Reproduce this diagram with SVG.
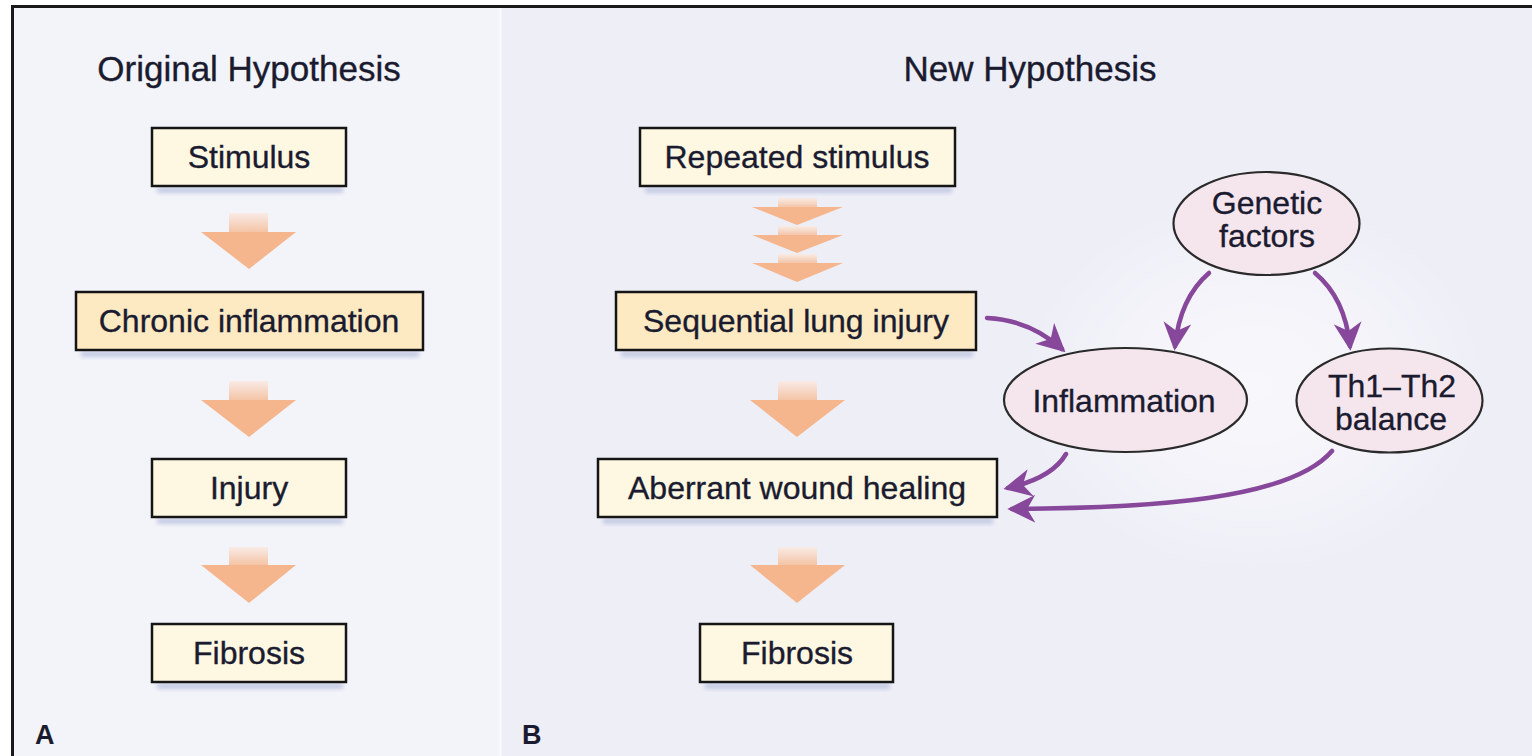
<svg xmlns="http://www.w3.org/2000/svg" width="1532" height="756" viewBox="0 0 1532 756">
<defs>
<style>
text{font-family:"Liberation Sans",Arial,sans-serif;fill:#1b1b30;text-anchor:middle;stroke:#1b1b30;stroke-width:0.35}
.title{font-size:35px}
.lbl{font-size:32px}
.pl{font-size:27px;text-anchor:start;font-weight:bold;stroke-width:0}
.box{fill:#fef8e2;stroke:#151515;stroke-width:2.5}
.box2{fill:#fdeac2;stroke:#151515;stroke-width:2.5}
.shd{fill:#c4cbe4;filter:url(#blur)}
.ell{fill:#f5e6ee;stroke:#2a2a2a;stroke-width:2.2}
.head{fill:#f5b68e}
.con{fill:none;stroke:#87479a;stroke-width:4.5;stroke-linecap:round}
</style>
<filter id="blur" x="-10%" y="-50%" width="120%" height="200%"><feGaussianBlur stdDeviation="2"/></filter>
<linearGradient id="stem" x1="0" y1="0" x2="0" y2="1">
<stop offset="0" stop-color="#f9ebe6"/>
<stop offset="1" stop-color="#f4c2a2"/>
</linearGradient>
<radialGradient id="glow" cx="0.5" cy="0.5" r="0.5">
<stop offset="0" stop-color="#ffffff" stop-opacity="0.6"/>
<stop offset="0.6" stop-color="#ffffff" stop-opacity="0.3"/>
<stop offset="1" stop-color="#ffffff" stop-opacity="0"/>
</radialGradient>
<marker id="ah" viewBox="0 0 12 12" refX="10" refY="6" markerWidth="28" markerHeight="28" markerUnits="userSpaceOnUse" orient="auto">
<path d="M0,0 L12,6 L0,12 L3.5,6 z" fill="#87479a"/>
</marker>
</defs>

<rect x="0" y="0" width="1532" height="756" fill="#ffffff"/>
<rect x="13" y="6" width="488" height="760" fill="#f3f4f9"/>
<rect x="501" y="6" width="1040" height="760" fill="#eeeef7"/>
<line x1="500.5" y1="6" x2="500.5" y2="756" stroke="#fafafd" stroke-width="2"/>
<path d="M12.5,760 L12.5,6.5 L1540,6.5" fill="none" stroke="#1a1a1a" stroke-width="3"/>
<ellipse cx="1255" cy="385" rx="235" ry="190" fill="url(#glow)"/>

<text class="title" x="249" y="81">Original Hypothesis</text>
<text class="title" x="1030" y="81">New Hypothesis</text>
<text class="pl" x="35" y="744">A</text>
<text class="pl" x="522" y="744">B</text>

<g id="arrows-a">
<rect x="229" y="213" width="39" height="20" fill="url(#stem)"/><path class="head" d="M201,232 L296,232 L249,269 z"/>
<rect x="229" y="381" width="39" height="20" fill="url(#stem)"/><path class="head" d="M201,400 L296,400 L249,437 z"/>
<rect x="229" y="547" width="39" height="19" fill="url(#stem)"/><path class="head" d="M201,565 L296,565 L249,603 z"/>
</g>
<g id="arrows-b">
<rect x="778" y="198" width="39" height="10" fill="url(#stem)"/><path class="head" d="M752,207 L843,207 L797,225 z"/>
<rect x="778" y="226" width="39" height="10" fill="url(#stem)"/><path class="head" d="M752,235 L843,235 L797,253 z"/>
<rect x="778" y="254" width="39" height="10" fill="url(#stem)"/><path class="head" d="M752,263 L843,263 L797,282 z"/>
<rect x="778" y="381" width="39" height="20" fill="url(#stem)"/><path class="head" d="M750,400 L845,400 L797,437 z"/>
<rect x="778" y="547" width="39" height="19" fill="url(#stem)"/><path class="head" d="M750,565 L845,565 L797,603 z"/>
</g>

<g id="n-stimulus"><rect class="shd" x="157" y="187" width="186" height="6"/><rect class="box" x="152" y="128" width="194" height="58"/><text class="lbl" x="249" y="168">Stimulus</text></g>
<g id="n-chronic"><rect class="shd" x="81" y="351" width="338" height="6"/><rect class="box2" x="76" y="292" width="347" height="58"/><text class="lbl" x="249" y="332">Chronic inflammation</text></g>
<g id="n-injury"><rect class="shd" x="157" y="518" width="186" height="6"/><rect class="box" x="152" y="459" width="194" height="58"/><text class="lbl" x="249" y="499">Injury</text></g>
<g id="n-fibrosis-a"><rect class="shd" x="157" y="683" width="186" height="6"/><rect class="box" x="152" y="624" width="194" height="58"/><text class="lbl" x="249" y="664">Fibrosis</text></g>

<g id="n-repeated"><rect class="shd" x="645" y="187" width="307" height="6"/><rect class="box" x="640" y="128" width="315" height="58"/><text class="lbl" x="797" y="168">Repeated stimulus</text></g>
<g id="n-sequential"><rect class="shd" x="621" y="351" width="352" height="6"/><rect class="box2" x="616" y="292" width="360" height="58"/><text class="lbl" x="796" y="332">Sequential lung injury</text></g>
<g id="n-aberrant"><rect class="shd" x="603" y="518" width="390" height="6"/><rect class="box" x="598" y="459" width="399" height="58"/><text class="lbl" x="797" y="499">Aberrant wound healing</text></g>
<g id="n-fibrosis-b"><rect class="shd" x="705" y="683" width="185" height="6"/><rect class="box" x="700" y="624" width="193" height="58"/><text class="lbl" x="797" y="664">Fibrosis</text></g>

<g id="n-genetic"><ellipse class="ell" cx="1266.5" cy="223.5" rx="93" ry="51.5"/><text class="lbl" x="1267" y="214">Genetic</text><text class="lbl" x="1267" y="247">factors</text></g>
<g id="n-inflammation"><ellipse class="ell" cx="1125.5" cy="400" rx="121.5" ry="52"/><text class="lbl" x="1124" y="412">Inflammation</text></g>
<g id="n-th"><ellipse class="ell" cx="1389.5" cy="400.5" rx="93" ry="52"/><text class="lbl" x="1392" y="397">Th1–Th2</text><text class="lbl" x="1391" y="430">balance</text></g>

<g id="connectors">
<path class="con" marker-end="url(#ah)" d="M987,318 Q1030,320 1062,349"/>
<path class="con" marker-end="url(#ah)" d="M1209,273 Q1180,298 1175,346"/>
<path class="con" marker-end="url(#ah)" d="M1315,273 Q1345,298 1350,346"/>
<path class="con" marker-end="url(#ah)" d="M1066,454 Q1052,478 1008,488"/>
<path class="con" marker-end="url(#ah)" d="M1332,451 C1290,500 1150,508 1012,509"/>
</g>
</svg>
